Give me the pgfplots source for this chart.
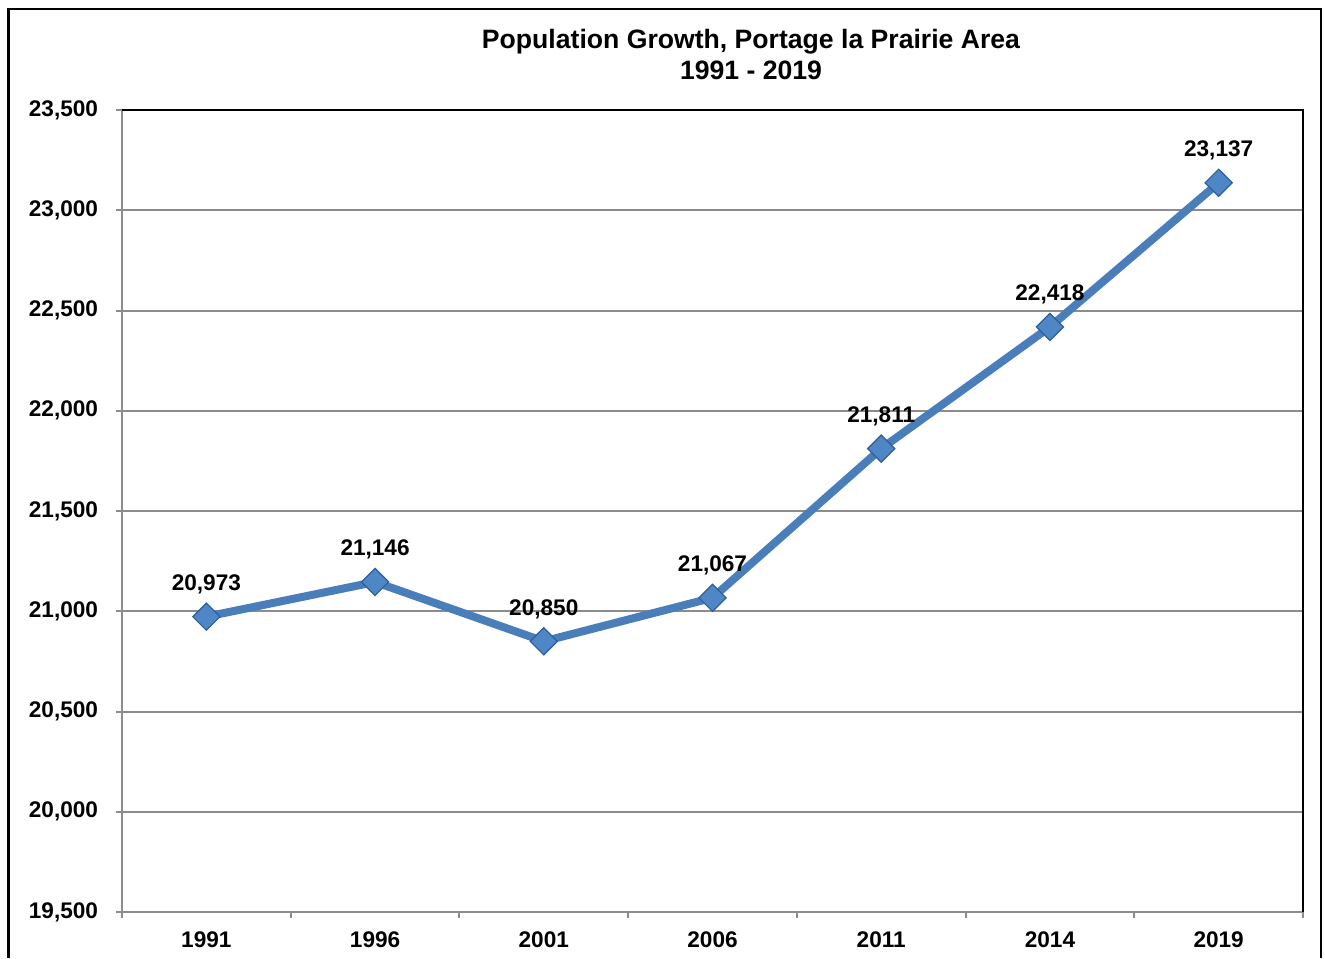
\documentclass[border=0pt]{standalone}
\usepackage{pgfplots}
\pgfplotsset{compat=1.18}
\usepackage{fontspec}
\setmainfont{Liberation Sans}
\definecolor{axgray}{HTML}{8C8C8C}
\definecolor{lineblue}{HTML}{4A7EBB}
\definecolor{markfill}{HTML}{4F86C6}
\definecolor{markdraw}{HTML}{2F5F99}
\begin{document}
\begin{tikzpicture}
\useasboundingbox (0pt,0pt) rectangle (662.5pt,479pt);
\draw[black, line width=1.3pt] (4.25pt,0pt) -- (4.25pt,474.5pt) -- (660.5pt,474.5pt) -- (660.5pt,0pt);
\node[anchor=base, font=\bfseries\fontsize{13.3}{15.5}\selectfont, inner sep=0pt] at (375.5pt,454.5pt) {Population Growth, Portage la Prairie Area};
\node[anchor=base, font=\bfseries\fontsize{13.3}{15.5}\selectfont, inner sep=0pt] at (375.5pt,439pt) {1991 - 2019};
\begin{axis}[
  at={(61pt,23pt)}, anchor=south west,
  scale only axis, width=590.5pt, height=401pt,
  xmin=-0.5, xmax=6.5, ymin=19500, ymax=23500,
  scaled y ticks=false,
  ytick={19500,20000,...,23500},
  xtick={0,...,6},
  xticklabels={1991,1996,2001,2006,2011,2014,2019},
  xtick style={draw=none},
  extra x ticks={-0.5,0.5,...,6.5},
  extra x tick labels={},
  extra x tick style={grid=none, xtick style={draw=axgray, line width=1pt}},
  ytick style={draw=axgray, line width=1pt},
  xtick pos=bottom, ytick pos=left,
  tick align=outside,
  major tick length=2.8pt,
  ymajorgrids,
  grid style={draw=axgray, line width=1pt},
  axis line style={draw=axgray, line width=1pt},
  tick label style={font=\bfseries\fontsize{11.3}{13}\selectfont, text=black},
  yticklabel style={anchor=east, inner sep=0pt, xshift=-9pt},
  xticklabel style={anchor=north, inner sep=0pt, yshift=-7pt},
  /pgf/number format/fixed,
  /pgf/number format/precision=0,
  /pgf/number format/1000 sep={,},
  /pgf/number format/assume math mode=true,
  nodes near coords,
  every node near coord/.append style={font=\bfseries\fontsize{11.3}{13}\selectfont, anchor=base, yshift=13pt, inner sep=0pt, text=black},
  clip=false,
]
\addplot[color=lineblue, line width=4pt, mark=square*, mark size=4.8pt,
  mark options={rotate=45, fill=markfill, draw=markdraw, line width=0.6pt}]
  coordinates {(0,20973) (1,21146) (2,20850) (3,21067) (4,21811) (5,22418) (6,23137)};
\draw[black, line width=1pt] (rel axis cs:0,1) -- (rel axis cs:1,1) -- (rel axis cs:1,0);
\end{axis}
\end{tikzpicture}
\end{document}
